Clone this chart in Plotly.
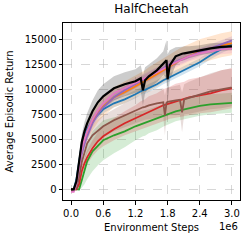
import plotly.graph_objects as go

# Environment steps (in units of 1e6)
steps = [0, 0.05, 0.1, 0.15, 0.2, 0.25, 0.3, 0.4, 0.5, 0.6, 0.8, 1.0, 1.2, 1.3, 1.34, 1.38,
         1.45, 1.6, 1.72, 1.75, 1.78, 1.8, 1.84, 1.95, 2.03, 2.07, 2.11, 2.2, 2.4, 2.6, 2.8, 3.0]

blue_mean = [0, 0, 1000, 3000, 4500, 5400, 6000, 6900, 7500, 8000, 8600, 9000, 9500, 9800, 9900, 9950,
             10100, 10500, 10900, 11000, 11050, 11100, 11200, 11500, 11700, 11800, 11900, 12100, 12700, 13400, 14000, 14500]
blue_std = [0, 0, 300, 400, 400, 400, 400, 400, 400, 400, 400, 400, 400, 400, 400, 400,
            400, 400, 400, 400, 400, 400, 400, 400, 400, 400, 400, 400, 400, 400, 400, 400]

orange_mean = [0, 0, 400, 2400, 3900, 5000, 5700, 6800, 7600, 8300, 9200, 9700, 10300, 10600, 10700, 10800,
               11000, 11500, 11900, 12000, 12100, 12200, 12300, 12700, 12900, 13000, 13100, 13300, 13800, 14100, 14400, 14600]
orange_std = [0, 0, 400, 600, 700, 800, 800, 900, 900, 1000, 1000, 1100, 1100, 1100, 1100, 1100,
              1200, 1200, 1200, 1200, 1200, 1200, 1200, 1200, 1200, 1200, 1200, 1200, 1200, 1200, 1200, 1200]

green_mean = [0, 0, 0, 0, 900, 2000, 2800, 3800, 4400, 4900, 5400, 5800, 6300, 6500, 6600, 6650,
              6800, 7100, 7400, 7450, 7500, 7550, 7600, 7800, 7900, 7950, 8000, 8150, 8350, 8500, 8600, 8650]
green_std = [0, 0, 0, 200, 800, 1500, 1800, 2000, 2000, 2000, 1800, 1600, 1400, 1300, 1300, 1300,
             1200, 1200, 1100, 1100, 1100, 1100, 1100, 1000, 1000, 1000, 1000, 1000, 1000, 1000, 1000, 1000]

red_mean = [0, 0, 0, 500, 1800, 2600, 3200, 4100, 4800, 5300, 6000, 6600, 7100, 7400, 7500, 7600,
            7800, 8100, 8400, 8450, 8500, 8550, 8650, 8850, 8950, 9000, 9050, 9200, 9400, 9600, 9900, 10100]
red_std = [0, 0, 0, 300, 500, 600, 700, 800, 900, 1000, 1100, 1200, 1300, 1400, 1400, 1400,
           1500, 1500, 1600, 1600, 1600, 1600, 1600, 1700, 1700, 1700, 1700, 1800, 1800, 1900, 2000, 2000]

purple_mean = [0, 0, 300, 2000, 3500, 4500, 5300, 6600, 7500, 8200, 9200, 9900, 10500, 10800, 10950, 11050,
               11300, 11700, 12100, 12200, 12300, 12400, 12500, 12800, 12950, 13000, 13100, 13300, 13700, 14100, 14500, 14900]
purple_std = [0, 0, 300, 400, 400, 400, 400, 400, 400, 400, 400, 400, 400, 400, 400, 400,
              400, 400, 400, 400, 400, 400, 400, 400, 400, 400, 400, 400, 400, 400, 400, 400]

brown_mean = [0, 0, 100, 1200, 2700, 3800, 4600, 5400, 5900, 6300, 6900, 7400, 7900, 8100, 8200, 8250,
              8400, 8600, 8700, 7400, 8650, 8750, 8800, 8900, 8950, 7700, 9000, 9150, 9500, 9800, 10000, 10200]
brown_std = [0, 0, 200, 600, 800, 900, 1000, 1100, 1100, 1100, 1100, 1200, 1300, 1300, 1300, 1300,
             1400, 1400, 1400, 2000, 1400, 1400, 1400, 1500, 1500, 2000, 1500, 1600, 1700, 1800, 1900, 1900]

pink_mean = [-250, -250, 500, 2500, 4000, 5000, 5800, 7000, 7900, 8600, 9600, 10100, 10600, 10900, 11000, 11100,
             11300, 11700, 12000, 12100, 12200, 12300, 12400, 12700, 12900, 13000, 13100, 13300, 13600, 13800, 14000, 14100]
pink_std = [0, 0, 300, 500, 500, 500, 500, 500, 500, 500, 500, 500, 500, 500, 500, 500,
            500, 500, 500, 500, 500, 500, 500, 500, 500, 500, 500, 500, 500, 500, 500, 500]

black_mean = [0, 0, 800, 3000, 4700, 5800, 6600, 7800, 8700, 9300, 10100, 10500, 10800, 11100, 9900, 10900,
              11300, 11900, 12600, 12800, 12900, 11000, 12400, 13300, 13500, 13550, 13600, 13700, 13900, 14100, 14250, 14300]
black_std = [0, 0, 300, 600, 800, 900, 1000, 1100, 1200, 1200, 1200, 1200, 1200, 1300, 1500, 1300,
             1200, 1200, 1200, 1500, 2000, 2500, 1500, 900, 700, 700, 700, 600, 500, 500, 400, 400]

x_ticks = [0, 0.6, 1.2, 1.8, 2.4, 3.0]
x_tick_labels = ["0.0", "0.6", "1.2", "1.8", "2.4", "3.0"]
y_ticks = [0, 2500, 5000, 7500, 10000, 12500, 15000]
y_tick_labels = ["0", "2500", "5000", "7500", "10000", "12500", "15000"]

series = [
    (blue_mean, blue_std, (31, 119, 180), 1.8),
    (orange_mean, orange_std, (255, 127, 14), 1.8),
    (green_mean, green_std, (44, 160, 44), 1.8),
    (red_mean, red_std, (214, 39, 40), 1.8),
    (purple_mean, purple_std, (148, 103, 189), 1.8),
    (brown_mean, brown_std, (140, 86, 75), 1.8),
    (pink_mean, pink_std, (227, 119, 194), 1.8),
    (black_mean, black_std, (0, 0, 0), 2.2),
]

fig = go.Figure()
# shaded bands first
for mean, std, (r, g, b), lw in series:
    upper = [m + s for m, s in zip(mean, std)]
    lower = [m - s for m, s in zip(mean, std)]
    fig.add_trace(go.Scatter(x=steps, y=upper, mode="lines", line=dict(width=0),
                             showlegend=False, hoverinfo="skip"))
    fig.add_trace(go.Scatter(x=steps, y=lower, mode="lines", line=dict(width=0),
                             fill="tonexty", fillcolor=f"rgba({r},{g},{b},0.2)",
                             showlegend=False, hoverinfo="skip"))
# mean lines on top
for mean, std, (r, g, b), lw in series:
    fig.add_trace(go.Scatter(x=steps, y=mean, mode="lines",
                             line=dict(color=f"rgb({r},{g},{b})", width=lw),
                             showlegend=False))

font = "DejaVu Sans"
fig.update_layout(
    width=249, height=240,
    margin=dict(l=63, r=9, t=23, b=40),
    paper_bgcolor="white", plot_bgcolor="white",
    font=dict(family=font, size=10, color="black"),
    title=dict(text="HalfCheetah", x=0.5, xanchor="center", xref="paper",
               y=1, yref="container", yanchor="top", pad=dict(t=5),
               font=dict(size=12, family=font, color="black")),
    showlegend=False,
)
fig.update_xaxes(range=[-0.15, 3.15], tickvals=x_ticks, ticktext=x_tick_labels,
                 showline=True, mirror=True, linecolor="black", linewidth=1,
                 ticks="outside", ticklen=3.5, tickcolor="black", tickwidth=0.8,
                 showgrid=True, gridcolor="rgba(176,176,176,0.5)", griddash="dash", gridwidth=0.8,
                 zeroline=False, tickfont=dict(size=10, family=font))
fig.update_yaxes(range=[-1070, 16630], tickvals=y_ticks, ticktext=y_tick_labels,
                 showline=True, mirror=True, linecolor="black", linewidth=1,
                 ticks="outside", ticklen=3.5, tickcolor="black", tickwidth=0.8,
                 showgrid=True, gridcolor="rgba(176,176,176,0.5)", griddash="dash", gridwidth=0.8,
                 zeroline=False, tickfont=dict(size=10, family=font))

fig.add_annotation(text="Environment Steps", xref="paper", yref="paper", x=0.5, y=0,
                   yshift=-27, xanchor="center", yanchor="middle", showarrow=False,
                   font=dict(size=10, family=font))
fig.add_annotation(text="1e6", xref="paper", yref="paper", x=1, y=0,
                   yshift=-26, xanchor="right", yanchor="middle", showarrow=False,
                   font=dict(size=10, family=font))
fig.add_annotation(text="Average Episodic Return", xref="paper", yref="paper", x=0, y=0.5,
                   xshift=-54, xanchor="center", yanchor="middle", textangle=-90, showarrow=False,
                   font=dict(size=10, family=font))

fig.write_html("out.html", config={"displayModeBar": False},
               post_script="document.body.style.margin='0';document.body.style.overflow='hidden';")
